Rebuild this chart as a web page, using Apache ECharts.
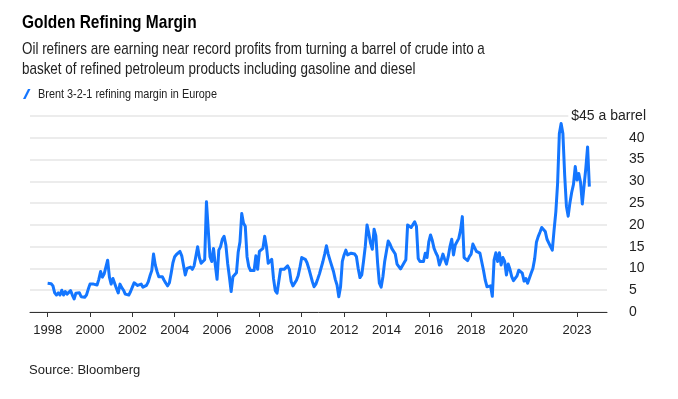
<!DOCTYPE html>
<html>
<head>
<meta charset="utf-8">
<script src="https://cdn.jsdelivr.net/npm/echarts@6/dist/echarts.min.js"></script>
<style>html,body{margin:0;padding:0;background:#fff}#main{width:678px;height:399px}</style>
</head>
<body>
<div id="main"></div>
<script>
// monthly margin, $/barrel, one array per year (Jan..Dec)
var v1998 = [6.6, 6.6, 6.5, 6.0, 4.4, 3.9, 4.4, 3.9, 5.0, 3.9, 4.7, 4.1];
var v1999 = [4.4, 4.9, 3.9, 3.0, 4.3, 4.1, 4.4, 3.5, 3.5, 3.4, 3.9, 5.2];
var v2000 = [6.4, 6.6, 6.4, 6.7, 6.2, 7.5, 9.3, 8.0, 8.7, 8.5, 11.9, 8.0];
var v2001 = [6.4, 7.7, 7.3, 5.4, 4.4, 6.4, 5.6, 5.0, 4.1, 3.7, 3.9, 4.7];
var v2002 = [5.7, 6.7, 6.8, 6.1, 6.0, 6.4, 5.7, 5.5, 6.1, 6.9, 8.3, 9.5];
var v2003 = [13.3, 10.8, 9.3, 8.1, 7.8, 8.1, 7.3, 6.6, 6.0, 6.7, 8.9, 11.3];
var v2004 = [12.7, 13.2, 13.6, 13.9, 12.9, 12.5, 8.5, 10.0, 9.6, 10.3, 9.8, 10.6];
var v2005 = [10.3, 15.0, 12.5, 11.2, 10.8, 12.0, 25.3, 25.5, 12.7, 11.6, 14.6, 10.8];
var v2006 = [7.5, 14.2, 15.0, 16.7, 17.4, 15.4, 11.2, 8.1, 4.7, 8.1, 8.1, 9.0];
var v2007 = [13.8, 16.1, 22.6, 20.4, 19.7, 12.7, 10.4, 9.5, 9.8, 9.5, 12.9, 9.8];
var v2008 = [13.9, 14.2, 14.6, 17.4, 15.0, 11.2, 11.0, 12.1, 7.7, 4.9, 4.3, 4.7];
var v2009 = [9.8, 10.0, 9.8, 9.8, 10.6, 9.8, 7.0, 6.0, 6.0, 7.3, 8.4, 10.3];
var v2010 = [12.5, 12.7, 12.1, 11.3, 10.0, 10.3, 7.0, 5.8, 6.4, 7.5, 8.7, 8.9];
var v2011 = [11.6, 13.3, 15.2, 13.3, 11.9, 12.1, 9.3, 7.5, 6.2, 3.5, 5.8, 11.6];
var v2012 = [13.1, 14.2, 13.1, 12.7, 13.5, 13.5, 13.3, 12.7, 10.0, 7.9, 8.5, 11.6];
var v2013 = [15.0, 20.0, 18.1, 15.8, 14.4, 19.0, 17.5, 11.2, 6.6, 5.7, 8.1, 11.6];
var v2014 = [12.0, 16.3, 15.6, 14.6, 14.5, 13.3, 11.0, 10.6, 9.9, 9.8, 11.3, 12.0];
var v2015 = [20.0, 19.6, 19.4, 19.6, 20.7, 19.7, 12.3, 11.6, 11.2, 11.6, 13.5, 12.5];
var v2016 = [16.1, 17.7, 16.4, 14.6, 13.6, 12.8, 10.8, 11.9, 13.3, 12.1, 11.0, 12.7];
var v2017 = [15.0, 16.7, 13.1, 15.4, 15.4, 16.9, 18.8, 21.9, 12.5, 12.3, 11.8, 12.7];
var v2018 = [13.3, 15.6, 15.4, 13.9, 13.9, 13.5, 13.6, 9.6, 7.3, 5.8, 6.0, 6.0];
var v2019 = [3.6, 11.9, 13.6, 11.6, 13.6, 10.8, 12.5, 11.6, 8.5, 11.0, 9.8, 8.1];
var v2020 = [7.2, 7.3, 8.3, 9.6, 9.9, 8.9, 7.1, 7.7, 6.6, 6.2, 8.9, 10.0];
var v2021 = [12.2, 16.0, 17.3, 18.3, 19.4, 19.0, 18.5, 16.7, 16.3, 15.0, 14.2, 18.8];
var v2022 = [23.0, 29.5, 41.0, 43.3, 41.0, 31.5, 24.3, 22.0, 25.1, 27.5, 29.3, 33.4];
var v2023 = [30.3, 31.8, 29.8, 24.8, 29.0, 33.0, 37.9, 28.8];

// x-axis labels to show (January of these years)
var tickYears = [1998, 2000, 2002, 2004, 2006, 2008, 2010, 2012, 2014, 2016, 2018, 2020, 2023];
var seriesName = 'Brent 3-2-1 refining margin in Europe';

var values = [].concat(v1998, v1999, v2000, v2001, v2002, v2003, v2004, v2005, v2006,
  v2007, v2008, v2009, v2010, v2011, v2012, v2013, v2014, v2015, v2016, v2017,
  v2018, v2019, v2020, v2021, v2022, v2023);

// monthly categories, axis runs Mar 1997 .. Jun 2024
var months = [];
var data = [];
var y = 1997, m = 3;
while (y < 2024 || (y == 2024 && m <= 6)) {
  var key = y + '-' + (m < 10 ? '0' + m : m);
  months.push(key);
  var idx = (y - 1998) * 12 + (m - 1);
  data.push(idx >= 0 && idx < values.length ? values[idx] : null);
  m++;
  if (m > 12) { m = 1; y++; }
}
var isTick = function (i, val) {
  return val.slice(5) == '01' && tickYears.indexOf(+val.slice(0, 4)) >= 0;
};

var plain = "'Liberation Sans', Arial, sans-serif";
var lineColor = '#1476ff';

var mycharts = echarts.init(document.getElementById('main'));
var option = {
  backgroundColor: '#fff',
  animation: false,
  title: [{
    text: 'Source: Bloomberg',
    left: 29, top: 364, padding: 0,
    textStyle: { fontFamily: plain, fontSize: 13, fontWeight: 'normal', color: '#222' }
  }],
  // heading texts + key, squeezed horizontally like the condensed original face
  graphic: [
    {
      type: 'text', x: 22, y: 13, scaleX: 0.815,
      style: { text: 'Golden Refining Margin', font: 'bold 19px ' + plain, fill: '#000',
        align: 'left', verticalAlign: 'top' }
    },
    {
      type: 'text', x: 22, y: 40, scaleX: 0.79,
      style: {
        text: 'Oil refiners are earning near record profits from turning a barrel of crude into a\nbasket of refined petroleum products including gasoline and diesel',
        font: '17px ' + plain, fill: '#222', lineHeight: 19.5, align: 'left', verticalAlign: 'top'
      }
    },
    {
      type: 'polygon',
      shape: { points: [[23, 99], [28, 89], [30.5, 89], [25.5, 99]] },
      style: { fill: lineColor }
    },
    {
      type: 'text', x: 38, y: 94, scaleX: 0.85,
      style: { text: seriesName, font: '12.8px ' + plain, fill: '#222',
        align: 'left', verticalAlign: 'middle' }
    },
    {
      type: 'text', x: 646, y: 116, z: 100,
      style: { text: '$45 a barrel', font: '14px ' + plain, fill: '#222',
        align: 'right', verticalAlign: 'middle', backgroundColor: '#fff', padding: [2, 0, 2, 3] }
    }
  ],
  grid: { left: 30, right: 71, top: 116, bottom: 87 },
  xAxis: {
    type: 'category',
    data: months,
    boundaryGap: false,
    axisLine: { lineStyle: { color: '#333', width: 1 } },
    axisTick: { interval: isTick, length: 5, lineStyle: { color: '#333' } },
    axisLabel: {
      interval: isTick,
      formatter: function (v) { return v.slice(0, 4); },
      margin: 12,
      fontFamily: plain, fontSize: 13, color: '#222'
    },
    splitLine: { show: false }
  },
  yAxis: {
    type: 'value',
    position: 'right',
    min: 0, max: 45, interval: 5,
    axisLine: { show: false },
    axisTick: { show: false },
    axisLabel: {
      margin: 22,
      formatter: function (v) { return v == 45 ? '' : v; },
      fontFamily: plain, fontSize: 14, color: '#222'
    },
    splitLine: { lineStyle: { color: '#ececec', width: 2 } }
  },
  series: [{
    name: seriesName,
    type: 'line',
    data: data,
    showSymbol: false,
    lineStyle: { color: lineColor, width: 3, join: 'round' },
    itemStyle: { color: lineColor }
  }]
};
mycharts.setOption(option);
</script>
</body>
</html>
